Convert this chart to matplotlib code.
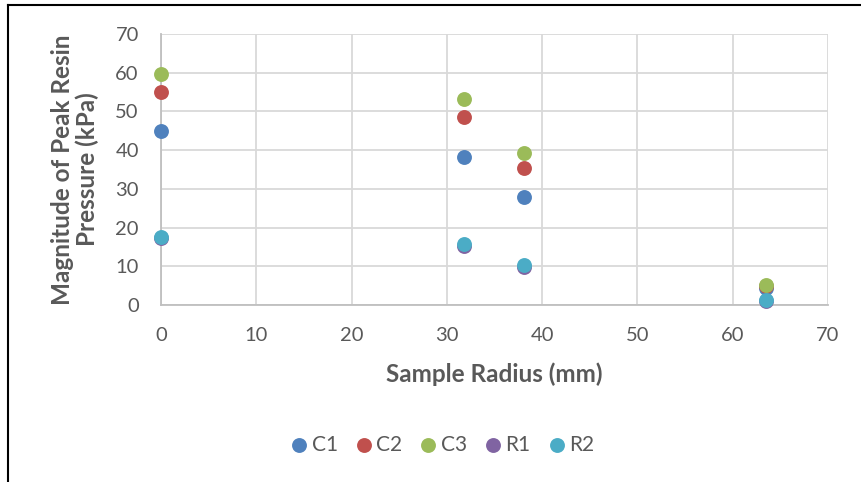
"""Peak resin pressure versus sample radius, scatter by configuration."""

import matplotlib.pyplot as plt
from matplotlib.lines import Line2D

plt.rcParams["font.family"] = ["Lato", "DejaVu Sans"]

radius_mm = [0.0, 31.8, 38.1, 63.5]

series_names = ["C1", "C2", "C3", "R1", "R2"]
c1 = [45.0, 38.2, 27.9, 4.5]
c2 = [55.0, 48.6, 35.4, 4.9]
c3 = [59.7, 53.2, 39.2, 5.2]
r1 = [17.2, 15.3, 9.8, 1.0]
r2 = [17.5, 15.7, 10.3, 1.2]
series_values = [c1, c2, c3, r1, r2]
series_colors = ["#4F81BD", "#C0504D", "#9BBB59", "#8064A2", "#4BACC6"]

x_ticks = [0, 10, 20, 30, 40, 50, 60, 70]
y_ticks = [0, 10, 20, 30, 40, 50, 60, 70]

text_color = "#595959"
grid_color = "#D9D9D9"

fig = plt.figure(figsize=(8.62, 4.82), dpi=100)
ax = fig.add_axes([0.1868, 0.3672, 0.7738, 0.5623])

for name, values, color in zip(series_names, series_values, series_colors):
    ax.scatter(radius_mm, values, s=115, color=color, label=name,
               linewidths=0, zorder=3, clip_on=False)

ax.set_xlim(0, 70)
ax.set_ylim(0, 70)
ax.set_xticks(x_ticks)
ax.set_yticks(y_ticks)
ax.grid(True, color=grid_color, linewidth=1.3, zorder=0)
ax.set_axisbelow(True)

for side in ("top", "right"):
    ax.spines[side].set_visible(False)
for side in ("left", "bottom"):
    ax.spines[side].set_color("#BFBFBF")
    ax.spines[side].set_linewidth(1.3)

ax.tick_params(length=0, labelsize=14.5, labelcolor=text_color)
ax.tick_params(axis="x", pad=16)
ax.tick_params(axis="y", pad=16)

ax.set_xlabel("Sample Radius (mm)", fontsize=17.5, fontweight="bold",
              color=text_color, labelpad=13)
ax.set_ylabel("Magnitude of Peak Resin\nPressure (kPa)", fontsize=17.5,
              fontweight="bold", color=text_color, labelpad=12,
              linespacing=1.05)

leg = fig.legend(loc="center", bbox_to_anchor=(0.514, 0.077), ncol=5,
                 frameon=False, fontsize=15, handlelength=0.7,
                 handletextpad=0.25, columnspacing=0.9, markerscale=1.0)
for t in leg.get_texts():
    t.set_color(text_color)

# chart frame edges (top and left)
fig.add_artist(Line2D([8 / 862, 1.0], [1 - 5 / 482, 1 - 5 / 482],
                      color="black", linewidth=1.5))
fig.add_artist(Line2D([8 / 862, 8 / 862], [0.0, 1 - 5 / 482],
                      color="black", linewidth=1.5))

fig.savefig("out.png", dpi=100, facecolor="white")
